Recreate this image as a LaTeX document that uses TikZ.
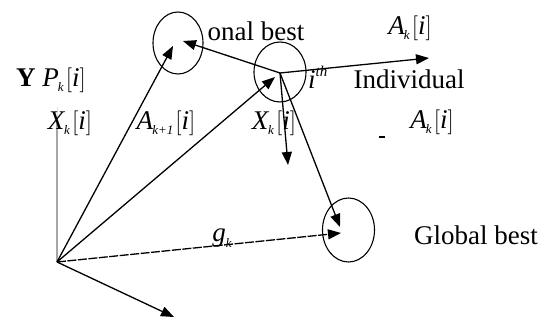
\documentclass[tikz,border=0pt]{standalone}
\usepackage{fontspec}
\setmainfont{Liberation Serif}
\usetikzlibrary{arrows.meta}
\newcommand\vlab[2]{\textit{#1}\kern-1pt\raisebox{-0.45ex}{\fontsize{13}{13}\selectfont\textit{#2}}\kern2pt$\bigl[$\textit{i}$\bigr]$}
\tikzset{
  vec/.style={line width=1.3pt,-{Triangle[length=13pt,width=10pt]}},
  ring/.style={line width=1.1pt},
  lbl/.style={inner sep=0pt,font=\fontsize{27}{30}\selectfont},
}
\begin{document}
\begin{tikzpicture}[x=1pt,y=-1pt]
\useasboundingbox (0,0) rectangle (547,320);
% texts
\node[lbl] (pbtxt) at (256,31) {onal best};
% circles
\draw[ring,fill=white] (178,43) ellipse [x radius=25,y radius=31];
\draw[ring] (280,72) ellipse [x radius=26,y radius=30];
\draw[ring] (348.5,230) ellipse [x radius=26,y radius=32];
% points
\coordinate (O) at (57,262);
\coordinate (I) at (280,73);
\coordinate (Ytip) at (57,107);
\coordinate (Ybase) at (57,120);
\coordinate (PB1) at (173,46);
\coordinate (PB2) at (183,41);
\coordinate (Itip) at (275,77);
\coordinate (Rtip) at (429,58);
\coordinate (Dtip) at (288,165);
\coordinate (GB1) at (340,227);
\coordinate (GB2) at (341,233);
\coordinate (Btip) at (174,317);
% vectors
\draw[line width=1.3pt,gray!70] (O) -- (Ybase);
\draw[vec,draw=none,fill=black] (Ybase) -- (Ytip);
\draw[vec] (O) -- (PB1);
\draw[vec] (I) -- (PB2);
\draw[vec] (O) -- (Itip);
\draw[vec] (I) -- (Rtip);
\draw[vec] (I) -- (Dtip);
\draw[vec] (I) -- (GB1);
\draw[vec,dash pattern=on 9pt off 1.5pt] (O) -- (GB2);
\draw[vec] (O) -- (Btip);
% labels
\node[lbl,anchor=west] (ypk) at (16,80) {\textbf{Y} \vlab{P}{k}};
\node[lbl] (xk1) at (70,123) {\vlab{X}{k}};
\node[lbl] (ak1) at (166,123) {\vlab{A}{k+1}};
\node[lbl] (xk2) at (274,123) {\vlab{X}{k}};
\node[lbl,anchor=west] (ith) at (308,77) {\textit{i}\raisebox{1.0ex}{\fontsize{15}{15}\selectfont\textit{th}}};
\node[lbl] (ak2) at (410,28) {\vlab{A}{k}};
\node[lbl] (indiv) at (409,79) {Individual};
\node[lbl] (ak3) at (432,122) {\vlab{A}{k}};
\node[lbl] (gb) at (476,235) {Global best};
\node[lbl] (gk) at (222,238) {\textit{g}\raisebox{-0.45ex}{\fontsize{13}{13}\selectfont\textit{k}}};
\coordinate (m1) at (379,137);
\coordinate (m2) at (385,137);
\draw[line width=1.5pt] (m1) -- (m2);
\end{tikzpicture}
\end{document}
